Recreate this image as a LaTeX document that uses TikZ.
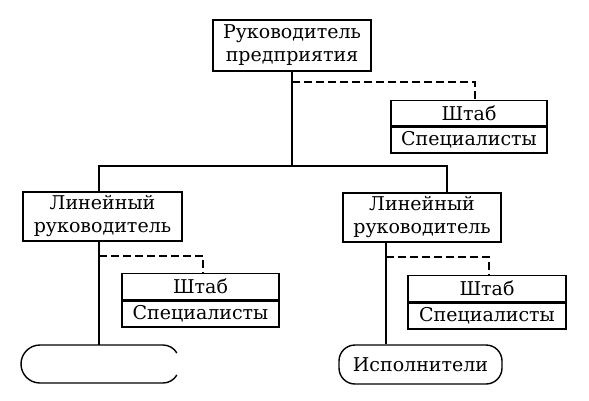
\documentclass[tikz,border=0pt]{standalone}
\usepackage{fontspec}
\setmainfont{DejaVu Serif}
\begin{document}
\begin{tikzpicture}[x=1pt,y=-1pt,
  box/.style={draw, line width=1.4pt, inner sep=0pt, align=center, font=\fontsize{19}{23}\selectfont},
  link/.style={line width=1.2pt},
  staffline/.style={link, dash pattern=on 8pt off 4pt},
  ovalline/.style={line width=1.4pt}]
\useasboundingbox (0,0) rectangle (589,400);
% boxes
\node[box, minimum width=158pt, minimum height=51pt] (top) at (292,45.5) {Руководитель\\предприятия};
\node[box, minimum width=156pt, minimum height=25pt, anchor=north] (s0a) at (469,100) {Штаб};
\node[box, minimum width=156pt, minimum height=26pt, anchor=north] (s0b) at (s0a.south) {Специалисты};
\node[box, minimum width=159pt, minimum height=49pt] (lin1) at (102.5,216.5) {Линейный\\руководитель};
\node[box, minimum width=158pt, minimum height=49pt] (lin2) at (422,217.5) {Линейный\\руководитель};
\node[box, minimum width=157pt, minimum height=26pt, anchor=north] (s1a) at (200.5,273) {Штаб};
\node[box, minimum width=157pt, minimum height=26pt, anchor=north] (s1b) at (s1a.south) {Специалисты};
\node[box, minimum width=158pt, minimum height=26pt, anchor=north] (s2a) at (487,275) {Штаб};
\node[box, minimum width=158pt, minimum height=26pt, anchor=north] (s2b) at (s2a.south) {Специалисты};
\node[box, rounded corners=16pt, minimum width=163pt, minimum height=39pt] (ex2) at (420.5,364.5) {Исполнители};
% left, cut-off oval
\coordinate (ex1) at (99,345);
\draw[ovalline] (163,345) -- (40,345) arc (90:270:19pt) -- (163,383) arc (270:330:16pt);
\draw[ovalline] (163,345) arc (90:30:16pt);
% helper coordinates
\coordinate (bL) at (99,166);
\coordinate (bR) at (447,166);
\coordinate (d0) at (475,82);
\coordinate (d1) at (203,256);
\coordinate (v2) at (386,0);
\coordinate (d2) at (489,257);
% line links
\draw[link] (top.south) -- (top.south |- bL);
\draw[link] (bL |- lin1.north) -- (bL) -- (bR) -- (bR |- lin2.north);
\draw[link] (bL |- lin1.south) -- (ex1);
\draw[link] (v2 |- lin2.south) -- (v2 |- ex2.north);
% staff links
\draw[staffline] (top.south |- d0) -- (d0) -- (d0 |- s0a.north);
\draw[staffline] (bL |- d1) -- (d1) -- (d1 |- s1a.north);
\draw[staffline] (v2 |- d2) -- (d2) -- (d2 |- s2a.north);
\end{tikzpicture}
\end{document}
